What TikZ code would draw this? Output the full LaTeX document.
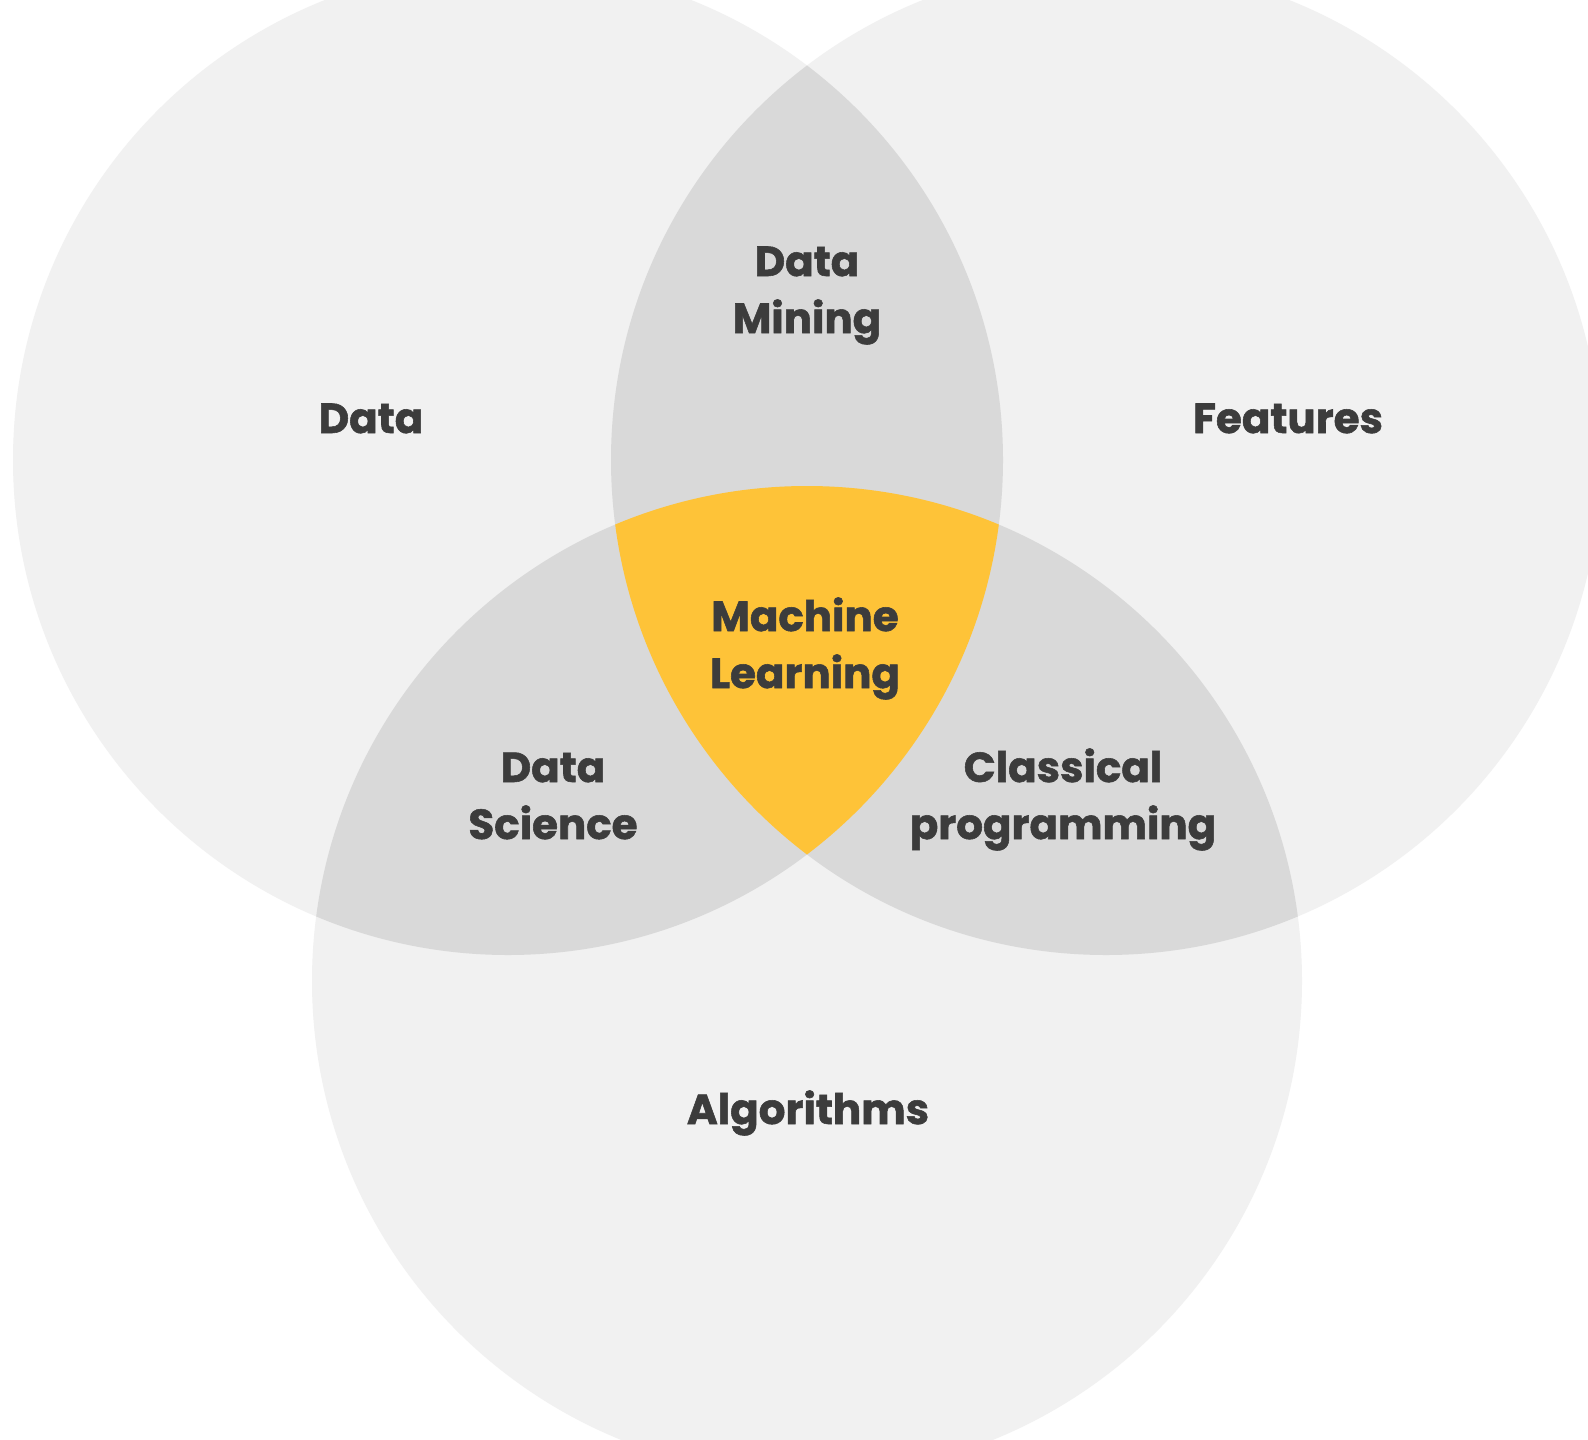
\documentclass[tikz,border=0pt]{standalone}
\usepackage{fontspec}
\setmainfont{Poppins}[BoldFeatures={FakeBold=1.3}]
\definecolor{circ}{HTML}{F1F1F1}
\definecolor{overlap}{HTML}{D9D9D9}
\definecolor{mlyellow}{HTML}{FEC338}
\definecolor{txt}{HTML}{3C3C3C}
\tikzset{
  lbl/.style={font=\bfseries\fontsize{42}{57}\selectfont, text=txt, align=center, anchor=base, inner sep=0pt}
}
\begin{document}
\begin{tikzpicture}[x=1pt,y=-1pt]
\useasboundingbox (0,0) rectangle (1588,1440);
\fill[white] (0,0) rectangle (1588,1440);
\coordinate (cL) at (508,460);
\coordinate (cR) at (1106,460);
\coordinate (cB) at (807,981);
\def\rad{495pt}
\fill[circ] (cL) circle[radius=\rad];
\fill[circ] (cR) circle[radius=\rad];
\fill[circ] (cB) circle[radius=\rad];
\begin{scope}
  \clip (cL) circle[radius=\rad];
  \fill[overlap] (cR) circle[radius=\rad];
  \fill[overlap] (cB) circle[radius=\rad];
\end{scope}
\begin{scope}
  \clip (cR) circle[radius=\rad];
  \fill[overlap] (cB) circle[radius=\rad];
\end{scope}
\begin{scope}
  \clip (cL) circle[radius=\rad];
  \clip (cR) circle[radius=\rad];
  \fill[mlyellow] (cB) circle[radius=\rad];
\end{scope}
\node[lbl] (data) at (371,433) {Data};
\node[lbl] (features) at (1288,433) {Features};
\node[lbl] (mining) at (807,333) {Data\\Mining};
\node[lbl] (ml) at (805,688) {Machine\\Learning};
\node[lbl] (science) at (553,839) {Data\\Science};
\node[lbl] (classical) at (1063,839) {Classical\\programming};
\node[lbl] (algo) at (808,1124) {Algorithms};
\end{tikzpicture}
\end{document}
